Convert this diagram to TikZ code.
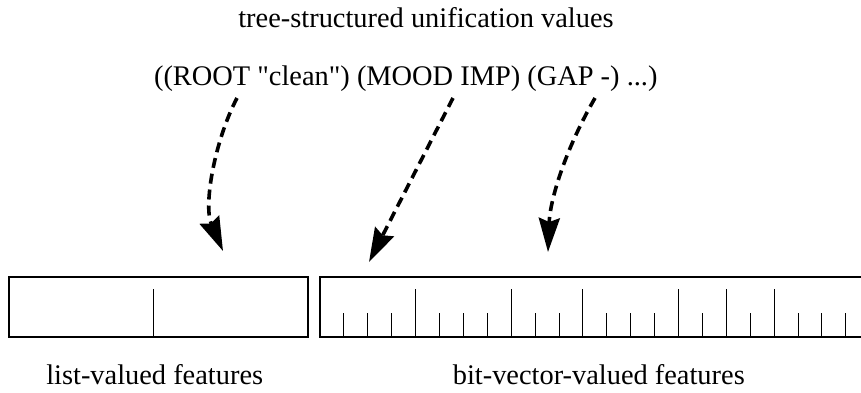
\documentclass[tikz,border=0pt]{standalone}
\usepackage{fontspec}
\setmainfont{Liberation Serif}[Ligatures=TeXOff]
\usetikzlibrary{arrows.meta}

\tikzset{
  lbl/.style={font=\fontsize{28.4}{34}\selectfont, inner sep=0pt, anchor=base},
  frame/.style={line width=1.1pt},
  tick/.style={line width=1pt},
  mapto/.style={line width=3.6pt, dash pattern=on 10pt off 6pt,
    -{Stealth[length=34pt, width=21pt, inset=4pt]}},
}

\begin{document}
\begin{tikzpicture}[x=1pt, y=-1pt]
  \useasboundingbox (0,0) rectangle (861,392);

  % labels
  \node[lbl] (title) at (426,27) {tree-structured unification values};
  \node[lbl] (value) at (405.8,85) {((ROOT "clean") (MOOD IMP) (GAP -) ...)};
  \node[lbl] (listlbl) at (154.7,384) {list-valued features};
  \node[lbl] (bitlbl) at (598.8,384) {bit-vector-valued features};

  % list-valued feature slots
  \draw[frame] (9,277) rectangle (308,337);
  \draw[tick] (153,289) -- (153,337);

  % bit-vector feature slots (box runs past the right border)
  \draw[frame] (870,277) -- (320,277) -- (320,337) -- (870,337);
  \foreach \k in {1,...,22}{
    \pgfmathsetmacro{\xx}{320+23.9*\k}
    \draw[tick] (\xx,313) -- (\xx,337);
  }
  \foreach \k in {4,8,11,15,17,19}{
    \pgfmathsetmacro{\xx}{320+23.9*\k}
    \draw[tick] (\xx,289) -- (\xx,313);
  }

  % arrow end points
  \coordinate (s1) at (237,98);
  \coordinate (t1) at (223,251);
  \coordinate (s2) at (453,98);
  \coordinate (t2) at (369,262);
  \coordinate (s3) at (595,98);
  \coordinate (t3) at (548,252);

  \draw[mapto] (s1) .. controls (215,140) and (203,205) .. (t1);
  \draw[mapto] (s2) -- (t2);
  \draw[mapto] (s3) .. controls (565,150) and (550,200) .. (t3);
\end{tikzpicture}
\end{document}
